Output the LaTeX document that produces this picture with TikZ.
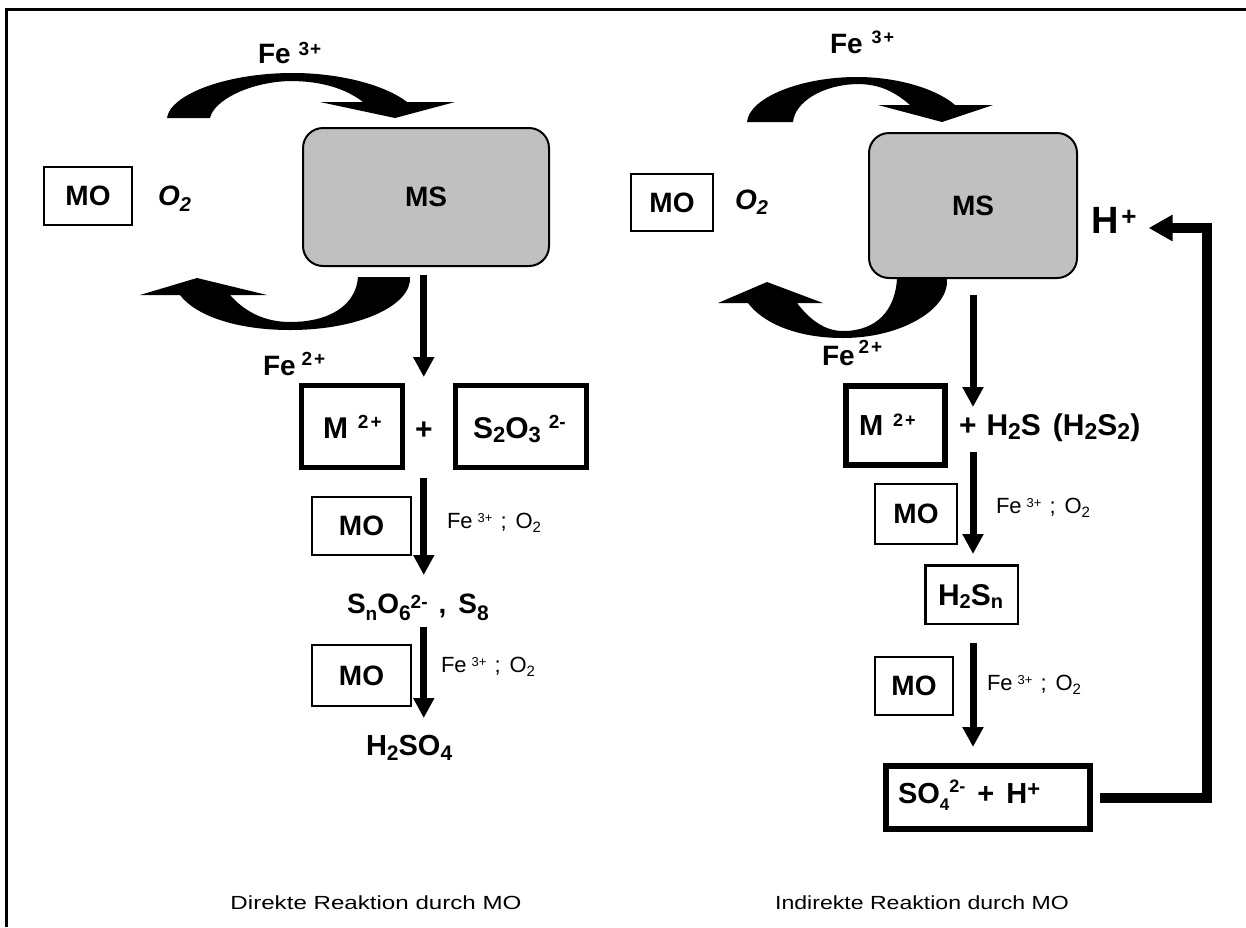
\documentclass[tikz,border=0pt]{standalone}
\usepackage{fontspec}
\usepackage{graphicx}
\setmainfont{Liberation Sans}
\usetikzlibrary{arrows.meta}
\definecolor{msgray}{HTML}{C0C0C0}
\newcommand\chemrs[3]{\raisebox{#1}{\fontsize{#2}{#2}\selectfont #3}}
\newcommand\felab{Fe\hspace{5pt}\chemrs{6pt}{13}{3+}\hspace{8pt};\hspace{9pt}O\chemrs{-4pt}{15}{2}}
\begin{document}
\begin{tikzpicture}[x=1pt,y=-1pt,
  txt/.style={inner sep=0pt, outer sep=0pt, anchor=base west},
  b28/.style={font=\fontsize{28}{28}\selectfont\bfseries},
  b29/.style={font=\fontsize{29}{29}\selectfont\bfseries},
  b30/.style={font=\fontsize{30}{30}\selectfont\bfseries},
  lab/.style={font=\fontsize{22}{22}\selectfont},
  captxt/.style={inner sep=0pt, font=\fontsize{19}{19}\selectfont},
  mobox/.style={draw, line width=2pt, inner sep=0pt, b28},
  thickbox/.style={draw, line width=5pt, inner sep=0pt},
  midbox/.style={draw, line width=2.5pt, inner sep=0pt},
  msbox/.style={draw, line width=2pt, fill=msgray, rounded corners=20pt, inner sep=0pt, b28},
  dn/.style={line width=7pt, -{Triangle[width=20pt,length=20pt]}},
  fb/.style={line width=10pt, line join=miter, -{Triangle[width=25pt,length=24pt]}},
  curv/.style={fill=black},
]
\fill[white] (0,0) rectangle (1246,927);
\path[use as bounding box] (0,0) rectangle (1246,927);
% frame
\draw[line width=3pt] (6.5,927) -- (6.5,9) -- (1246,9);

% ================= left panel =================
\node[msbox, minimum width=246pt, minimum height=138pt] (msL) at (426,197) {MS};
\node[mobox, minimum width=88pt, minimum height=58pt] (moTL) at (88,196) {MO};
\node[txt, b28] (o2L) at (158,205) {\itshape O\chemrs{-6pt}{20}{2}};
\node[txt, b28] (fe3L) at (258,63) {Fe\hspace{8pt}\chemrs{8pt}{19}{3\hspace{1pt}+}};
\node[txt, b28] (fe2L) at (263,375) {Fe\hspace{6pt}\chemrs{10pt}{19}{2\hspace{2pt}+}};
% curved arrows
\fill[curv] (167,118) .. controls (170,95) and (225,73) .. (293,73)
  .. controls (340,73) and (385,85) .. (407,102) -- (455,102) -- (395,118) -- (320,102) -- (363,102)
  .. controls (345,88) and (320,81) .. (290,81) .. controls (250,82) and (214,100) .. (210,118) -- cycle;
\fill[curv] (410,277) .. controls (412,305) and (360,330) .. (290,330)
  .. controls (235,330) and (195,315) .. (180,295) -- (140,295) -- (197,278) -- (267,295) -- (230,295)
  .. controls (245,312) and (265,322) .. (290,322) .. controls (330,322) and (356,305) .. (358,277) -- cycle;

\node[thickbox, minimum width=101pt, minimum height=82pt] (m2L) at (352,426.5) {};
\node[txt, b30] (tM2L) at (323,438) {M\hspace{10pt}\chemrs{10pt}{19}{2\hspace{2pt}+}};
\node[txt, b30] (plusL) at (415,439) {+};
\node[thickbox, minimum width=131pt, minimum height=82pt] (s2o3L) at (521,426.5) {};
\node[txt, b30] (tS2O3L) at (473,438) {S\chemrs{-4pt}{22}{2}O\chemrs{-4pt}{22}{3}\hspace{8pt}\chemrs{10pt}{19}{2-}};

\node[mobox, minimum width=99pt, minimum height=58pt] (moL1) at (361.5,526) {MO};
\node[txt, lab] (labL1) at (447,528) {\felab};
\node[txt, b28, text height=17pt, text depth=7pt] (snL) at (347,613)
  {S\chemrs{-7pt}{19}{n}O\chemrs{-7pt}{21}{6}\chemrs{5pt}{19}{2-}\hspace{11pt},\hspace{12pt}S\chemrs{-7pt}{21}{8}};
\node[mobox, minimum width=99pt, minimum height=61pt] (moL2) at (361.5,675.5) {MO};
\node[txt, lab] (labL2) at (441,672) {\felab};
\node[txt, b29, text height=21pt, text depth=6pt] (h2so4) at (366,755)
  {H\chemrs{-5pt}{21}{2}SO\chemrs{-5pt}{21}{4}};

\draw[dn, shorten <=8pt, shorten >=6pt] (msL.south -| plusL.center) -- (m2L.north -| plusL.center);
\draw[dn, shorten <=8pt, shorten >=21pt] (m2L.south -| plusL.center) -- (snL.north -| plusL.center);
\draw[dn, shorten <=7pt, shorten >=16pt] (snL.south -| plusL.center) -- (h2so4.north -| plusL.center);

\node[captxt] (capL) at (376,903) {\scalebox{1.27}[1]{Direkte Reaktion durch MO}};

% ================= right panel =================
\node[msbox, minimum width=208pt, minimum height=145pt] (msR) at (973,205.5) {MS};
\node[mobox, minimum width=82pt, minimum height=57pt] (moTR) at (672,202.5) {MO};
\node[txt, b28] (o2R) at (735,209) {\itshape O\chemrs{-5pt}{20}{2}};
\node[txt, b28] (fe3R) at (830,53) {Fe\hspace{9pt}\chemrs{10pt}{18}{3\hspace{2pt}+}};
\node[txt, b28] (fe2R) at (822,365) {Fe\hspace{4pt}\chemrs{12pt}{19}{2\hspace{2pt}+}};
\node[txt, font=\fontsize{38}{38}\selectfont\bfseries] (hplus) at (1091,233) {H\hspace{3pt}\chemrs{8pt}{26}{+}};
% curved arrows
\fill[curv] (747,122) .. controls (749,98) and (800,77) .. (857,77)
  .. controls (900,77) and (938,90) .. (955,105) -- (993,105) -- (942,122) -- (878,105) -- (910,105)
  .. controls (895,92) and (880,84) .. (857,84) .. controls (822,85) and (795,102) .. (793,122) -- cycle;
\fill[curv] (947,279) .. controls (949,310) and (900,338) .. (843,338)
  .. controls (795,338) and (762,322) .. (748,303) -- (718,303) -- (767,282) -- (823,303) -- (797,303)
  .. controls (810,320) and (825,331) .. (843,331) .. controls (877,331) and (895,310) .. (897,279) -- cycle;

\node[thickbox, line width=6pt, minimum width=99pt, minimum height=79pt] (m2R) at (895.5,425.5) {};
\node[txt, b29] (tM2R) at (859,435) {M\hspace{10pt}\chemrs{9pt}{18}{2\hspace{2pt}+}};
\node[txt, b30, text height=22pt, text depth=8pt] (tH2S) at (959,435)
  {+\hspace{10pt}H\chemrs{-4pt}{23}{2}S\hspace{12pt}(H\chemrs{-4pt}{23}{2}S\chemrs{-4pt}{23}{2})};
\node[mobox, minimum width=82pt, minimum height=60pt] (moR1) at (916,514) {MO};
\node[txt, lab] (labR1) at (996,513) {\felab};
\node[midbox, minimum width=92.5pt, minimum height=58.5pt] (h2snR) at (971.5,594.5) {};
\node[txt, b30] (tH2Sn) at (938,605) {H\chemrs{-3pt}{20}{2}S\chemrs{-3pt}{20}{n}};
\node[mobox, minimum width=78pt, minimum height=58pt] (moR2) at (914,686) {MO};
\node[txt, lab] (labR2) at (987,690) {\felab};
\node[thickbox, line width=6pt, minimum width=204pt, minimum height=63pt] (so4R) at (988,797.5) {};
\node[txt, b29] (tSO4) at (898,803)
  {SO\chemrs{-7pt}{17}{4}\chemrs{11pt}{18}{2-}\hspace{12pt}+\hspace{12pt}H\chemrs{7pt}{22}{+}};

\draw[dn, shorten <=16pt, shorten >=6pt] (msR.south) -- (msR.south |- tH2S.north);
\draw[dn, shorten <=9pt, shorten >=10pt] (tH2S.south -| msR.south) -- (h2snR.north -| msR.south);
\draw[dn, shorten <=18pt, shorten >=16pt] (h2snR.south -| msR.south) -- (so4R.north -| msR.south);

\coordinate (fbc) at (1207,228);
\draw[fb, shorten <=7pt, shorten >=12pt] (so4R.east) -- (so4R.east -| fbc) -- (fbc) -- (fbc -| hplus.east);

\node[captxt] (capR) at (922,903) {\scalebox{1.215}[1]{Indirekte Reaktion durch MO}};
\end{tikzpicture}
\end{document}
